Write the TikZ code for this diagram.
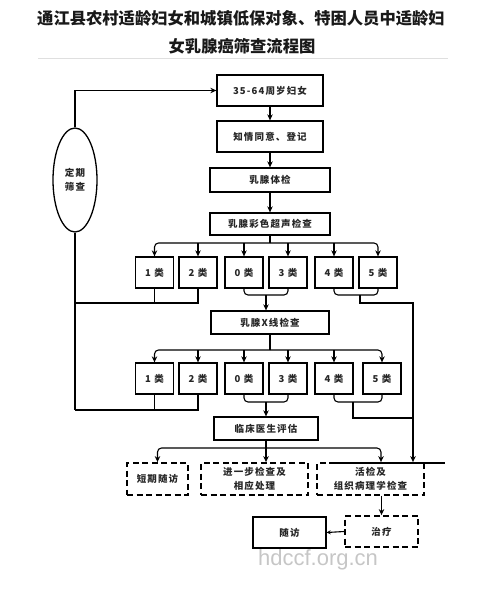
\documentclass[tikz,border=0pt]{standalone}
\usepackage{fontspec}
\setmainfont{Liberation Sans}
\newfontfamily\cjk{Noto Sans CJK SC}
\newfontfamily\cjkbox[LetterSpace=12]{Noto Sans CJK SC}
\usetikzlibrary{arrows.meta,shapes.geometric,calc}
\begin{document}
\begin{tikzpicture}[x=1pt,y=-1pt,
  box/.style={draw, line width=1.3pt, inner sep=0pt, align=center,
    font=\cjkbox\bfseries\fontsize{9.5}{14}\selectfont, text=black!85},
  dbox/.style={box, line width=1.8pt, dash pattern=on 6pt off 3.5pt},
  con/.style={line width=1.1pt},
  arr/.style={con, -{Stealth[length=6pt,width=5.5pt]}},
  brk/.style={con, rounded corners=4pt},
  ttl/.style={font=\cjk\bfseries\fontsize{16.3}{20}\selectfont, text=black!90, inner sep=0pt},
]
\useasboundingbox (0,0) rectangle (500,595);

% title
\node[ttl] (t1) at (241,18) {通江县农村适龄妇女和城镇低保对象、特困人员中适龄妇};
\node[ttl] (t2) at (242,46) {女乳腺癌筛查流程图};
\draw[gray!25, line width=0.8pt] (38,58) -- (448,58);

% main boxes
\node[box, minimum width=106pt, minimum height=31pt] (b1) at (270,90.5) {35-64周岁妇女};
\node[box, minimum width=106pt, minimum height=31pt] (b2) at (270,136.5) {知情同意、登记};
\node[box, minimum width=120pt, minimum height=24pt] (b3) at (270,180) {乳腺体检};
\node[box, minimum width=120pt, minimum height=22pt] (b4) at (270,224) {乳腺彩色超声检查};
\node[box, ellipse, minimum width=44pt, minimum height=104pt] (e) at (75,180) {定期\\筛查};

% row 1
\node[box, minimum width=38pt, minimum height=31pt] (r11) at (154.5,272.5) {1 类};
\node[box, minimum width=38pt, minimum height=31pt] (r12) at (198,272.5) {2 类};
\node[box, minimum width=38pt, minimum height=31pt] (r13) at (244,272.5) {0 类};
\node[box, minimum width=38pt, minimum height=31pt] (r14) at (288,272.5) {3 类};
\node[box, minimum width=38pt, minimum height=31pt] (r15) at (334,272.5) {4 类};
\node[box, minimum width=38pt, minimum height=31pt] (r16) at (378,272.5) {5 类};

\node[box, minimum width=118pt, minimum height=23pt] (bx) at (270,322.5) {乳腺X线检查};

% row 2
\node[box, minimum width=38pt, minimum height=31pt] (r21) at (154.5,378.5) {1 类};
\node[box, minimum width=38pt, minimum height=31pt] (r22) at (198,378.5) {2 类};
\node[box, minimum width=38pt, minimum height=31pt] (r23) at (244,378.5) {0 类};
\node[box, minimum width=38pt, minimum height=31pt] (r24) at (288,378.5) {3 类};
\node[box, minimum width=38pt, minimum height=31pt] (r25) at (334,378.5) {4 类};
\node[box, minimum width=38pt, minimum height=31pt] (r26) at (382,378.5) {5 类};

\node[box, minimum width=104pt, minimum height=23pt] (b5) at (266,428.5) {临床医生评估};

% outcomes
\node[dbox, minimum width=61pt, minimum height=32pt] (d1) at (157.5,479) {短期随访};
\node[dbox, minimum width=107pt, minimum height=32pt] (d2) at (254.5,479) {进一步检查及\\相应处理};
\node[dbox, minimum width=107pt, minimum height=32pt] (d3) at (370.5,479) {活检及\\组织病理学检查};
\node[dbox, minimum width=73pt, minimum height=31pt] (d4) at (381.5,531.5) {治疗};
\node[box, minimum width=73pt, minimum height=31pt] (s1) at (289.5,532.5) {随访};

\node[font=\fontsize{22}{24}\selectfont, text=gray!45, inner sep=0pt] (wm) at (318,560) {hdccf.org.cn};

% helper coordinates
\coordinate (h1) at (0,243);
\coordinate (h2) at (0,303);
\coordinate (h3) at (0,295);
\coordinate (h4) at (0,410);
\coordinate (h5) at (0,350);
\coordinate (h8) at (0,402);
\coordinate (h9) at (0,418);
\coordinate (h10) at (0,448);
\coordinate (rv) at (413,0);
\coordinate (q1) at (360,295);
\coordinate (q2) at (353,402);
\coordinate (xs3) at (381,0);
\coordinate (m1) at (266,0);
\coordinate (ln1) at (330,463);
\coordinate (ln2) at (445,463);

% connectors top
\draw[arr] (e.north) |- (b1.west);
\draw[arr] (b1.south) -- (b2.north);
\draw[arr] (b2.south) -- (b3.north);
\draw[arr] (b3.south) -- (b4.north);
\draw[con] (b4.south) -- (b4.south |- h1);
\draw[arr, rounded corners=4pt] (b4.south |- h1) -| (r11.north);
\draw[arr, rounded corners=4pt] (b4.south |- h1) -| (r16.north);
\foreach \n in {r12,r13,r14,r15}
  \draw[arr] (\n.north |- h1) -- (\n.north);

% row 1 outputs
\draw[con] (r11.south) -- (r11.south |- h2);
\draw[con] (r12.south) |- (e.south |- h2);
\draw[con] (e.south) -- (e.south |- h4);
\draw[brk] (r13.south) |- (m1 |- h3) -| (r14.south);
\draw[arr] (m1 |- h3) -- (m1 |- bx.north);
\draw[brk] (r15.south) |- (q1) -| (r16.south);
\draw[arr] (q1) |- (rv |- h2) -- (rv |- d3.north);

% row 2
\draw[con] (bx.south) -- (bx.south |- h5);
\draw[arr, rounded corners=4pt] (bx.south |- h5) -| (r21.north);
\draw[arr, rounded corners=4pt] (bx.south |- h5) -| (r26.north);
\foreach \n in {r22,r23,r24,r25}
  \draw[arr] (\n.north |- h5) -- (\n.north);
\draw[con] (r21.south) -- (r21.south |- h4);
\draw[con] (r22.south) |- (e.south |- h4);
\draw[brk] (r23.south) |- (m1 |- h8) -| (r24.south);
\draw[arr] (m1 |- h8) -- (m1 |- b5.north);
\draw[brk] (r25.south) |- (q2) -| (r26.south);
\draw[con] (q2) |- (rv |- h9);

% row 3
\draw[arr] (b5.south) -- (b5.south |- d2.north);
\draw[arr, rounded corners=4pt] (b5.south |- h10) -| (d1.north);
\draw[arr, rounded corners=4pt] (b5.south |- h10) -| (xs3 |- d3.north);
\draw[con] (ln1) -- (ln2);
\draw[arr] (d4.north |- d3.south) -- (d4.north);
\draw[con, -{Stealth[length=4pt,width=4pt]}] (d4.west) -- (s1.east);
\end{tikzpicture}
\end{document}
